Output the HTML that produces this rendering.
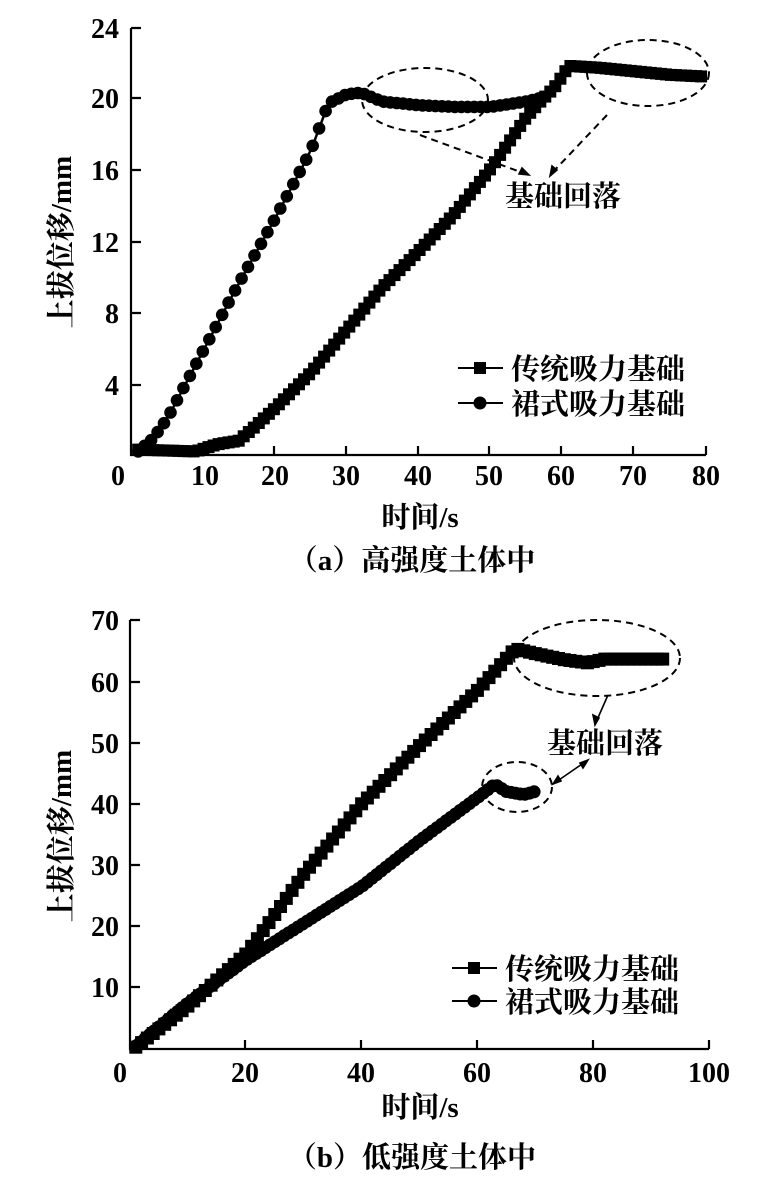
<!DOCTYPE html>
<html><head><meta charset="utf-8">
<style>
html,body{margin:0;padding:0;background:#fff;}
svg{display:block;}
text{font-family:"Liberation Serif","Noto Serif CJK SC",serif;fill:#000;}
.t{font-size:28px;font-weight:bold;}
.c{font-family:"Liberation Serif","Noto Serif CJK SC",serif;font-size:29px;font-weight:bold;}
</style></head><body>
<svg id="s" width="761" height="1180" viewBox="0 0 761 1180" xmlns="http://www.w3.org/2000/svg">
<g stroke="#000" stroke-width="2.2" fill="none">
<path d="M131,28 V455 H706"/>
<path d="M131,28h10M131,98h10M131,170h10M131,242h10M131,313h10M131,385h10"/>
<path d="M203,455v-9M274,455v-9M346,455v-9M418,455v-9M489,455v-9M561,455v-9M633,455v-9M706,455v-9"/>
<path d="M130,620 V1049 H709"/>
<path d="M130,620h10M130,682h10M130,743h10M130,804h10M130,865h10M130,926h10M130,987h10"/>
<path d="M245,1049v-9M361,1049v-9M477,1049v-9M593,1049v-9M709,1049v-9"/>
</g>
<g class="t" text-anchor="end">
<text x="119" y="38">24</text><text x="119" y="108">20</text><text x="119" y="180">16</text><text x="119" y="252">12</text><text x="119" y="323">8</text><text x="119" y="395">4</text>
<text x="119" y="630">70</text><text x="119" y="692">60</text><text x="119" y="753">50</text><text x="119" y="814">40</text><text x="119" y="875">30</text><text x="119" y="936">20</text><text x="119" y="997">10</text>
</g>
<g class="t" text-anchor="middle">
<text x="118" y="485">0</text><text x="205" y="485">10</text><text x="275" y="485">20</text><text x="346" y="485">30</text><text x="418" y="485">40</text><text x="489" y="485">50</text><text x="561" y="485">60</text><text x="633" y="485">70</text><text x="706" y="485">80</text>
<text x="120" y="1082">0</text><text x="245" y="1082">20</text><text x="361" y="1082">40</text><text x="477" y="1082">60</text><text x="593" y="1082">80</text><text x="709" y="1082">100</text>
</g>
<g class="c" text-anchor="middle">
<text x="420" y="527">时间/s</text>
<text x="420" y="1117">时间/s</text>
<text x="412" y="570">（a）高强度土体中</text>
<text x="412" y="1167">（b）低强度土体中</text>
<text transform="translate(71,242) rotate(-90)">上拔位移/mm</text>
<text transform="translate(71,836) rotate(-90)">上拔位移/mm</text>
<text x="563" y="206">基础回落</text>
<text x="605" y="753">基础回落</text>
</g>
<g class="c">
<text x="511" y="379">传统吸力基础</text>
<text x="511" y="414">裙式吸力基础</text>
<text x="505" y="979">传统吸力基础</text>
<text x="505" y="1012">裙式吸力基础</text>
</g>
<g stroke="#000" stroke-width="2">
<line x1="458" y1="368" x2="503" y2="368"/><rect x="475" y="363" width="10" height="10"/>
<line x1="458" y1="403" x2="503" y2="403"/><circle cx="480" cy="403" r="5.5"/>
<line x1="452" y1="968" x2="497" y2="968"/><rect x="469" y="963" width="10" height="10"/>
<line x1="452" y1="1001" x2="497" y2="1001"/><circle cx="474" cy="1001" r="5.5"/>
</g>
<g stroke="#000" stroke-width="2" fill="none" stroke-dasharray="7,5">
<ellipse cx="425" cy="100" rx="63" ry="32"/>
<ellipse cx="648" cy="73" rx="61" ry="33"/>
<line x1="420" y1="135" x2="526" y2="174"/>
<line x1="607" y1="115" x2="552" y2="173"/>
<ellipse cx="597" cy="658" rx="83" ry="38"/>
<ellipse cx="517" cy="787" rx="35" ry="25"/>
</g>
<g stroke="#000" stroke-width="1.6" fill="#000">
<path d="M529,175 l-10,-1 l3,-6z"/>
<path d="M550,176 l2,-10 l5,4z"/>
<line x1="608" y1="695" x2="597" y2="720"/><path d="M595,725 l-2,-10 l6,3z"/>
<line x1="556" y1="782" x2="585" y2="762"/><path d="M553,784 l5,-8 l3,5z"/><path d="M588,760 l-5,8 l-3,-5z"/>
</g>
<g id="data"></g>
</svg>
<script>
function interp(k,t){for(var i=0;i<k.length-1;i++){if(t<=k[i+1][0]){var a=k[i],b=k[i+1];return a[1]+(b[1]-a[1])*(t-a[0])/(b[0]-a[0]);}}return k[k.length-1][1];}
var g=document.getElementById('data'),out='';
function series(k,step,X,Y,type,r){var t0=k[0][0],t1=k[k.length-1][0],pts=[];for(var t=t0;t<=t1+1e-6;t+=step){pts.push([X(t),Y(interp(k,t))]);}
out+='<polyline fill="none" stroke="#000" stroke-width="2.5" points="'+pts.map(function(p){return p[0].toFixed(1)+','+p[1].toFixed(1)}).join(' ')+'"/>';
pts.forEach(function(p){if(type=='s')out+='<rect x="'+(p[0]-r).toFixed(1)+'" y="'+(p[1]-r).toFixed(1)+'" width="'+2*r+'" height="'+2*r+'"/>';else out+='<circle cx="'+p[0].toFixed(1)+'" cy="'+p[1].toFixed(1)+'" r="'+r+'"/>';});}
var X1=function(t){return 131+t*7.18},Y1=function(v){return 455-v*17.85};
var X2=function(t){return 130+t*5.79},Y2=function(v){return 1049-v*6.13};
series([[1,0.3],[9,0.2],[12,0.6],[15,0.8],[17,1.5],[20,2.6],[25,4.6],[30,7],[35,9.4],[40,11.4],[45,13.5],[50,16],[55,18.9],[57,19.8],[59,20.6],[61,21.8],[65,21.7],[70,21.5],[75,21.3],[80,21.2]],0.7,X1,Y1,'s',6);
series([[1,0.2],[3,0.9],[5,2],[10,5.8],[15,9.6],[20,13.2],[25,17],[27.5,19.7],[30,20.2],[32,20.3],[35,19.8],[40,19.6],[45,19.5],[50,19.5],[55,19.8],[57,20]],0.9,X1,Y1,'c',6.3);
series([[1,0.3],[10,7],[20,15.5],[22,18],[30,28.5],[40,40],[50,49.5],[60,58.5],[66.5,65.3],[70,64.5],[75,63.5],[79,63],[82,63.6],[92,63.6]],1.0,X2,Y2,'s',6.5);
series([[1,0.5],[10,7.5],[20,14.5],[30,20.5],[40,26.5],[50,34],[60,41],[63,43.2],[65,42],[68,41.5],[70,42]],0.8,X2,Y2,'c',6.5);
g.innerHTML=out;
</script>
</body></html>
